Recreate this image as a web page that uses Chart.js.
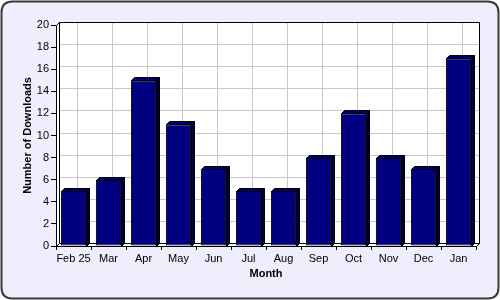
<!DOCTYPE html>
<html>
<head>
<meta charset="utf-8">
<script src="https://cdn.jsdelivr.net/npm/chart.js@4/dist/chart.umd.min.js"></script>
<style>
  html, body { margin: 0; padding: 0; background: #ffffff; }
  #wrap { width: 500px; height: 300px; position: relative; }
</style>
</head>
<body>
<div id="wrap"><canvas id="chart" width="500" height="300"></canvas></div>
<script>
// donnees
const months = ['Feb 25', 'Mar', 'Apr', 'May', 'Jun', 'Jul', 'Aug', 'Sep', 'Oct', 'Nov', 'Dec', 'Jan'];
const downloads = [5, 6, 15, 11, 7, 5, 5, 8, 12, 8, 7, 17];
const yTicks = [0, 2, 4, 6, 8, 10, 12, 14, 16, 18, 20];

const DEPTH = 3;
const FONT = 'Liberation Sans, Arial, sans-serif';

function roundRect(ctx, x, y, w, h, r) {
    ctx.beginPath();
    ctx.moveTo(x + r, y);
    ctx.lineTo(x + w - r, y);
    ctx.quadraticCurveTo(x + w, y, x + w, y + r);
    ctx.lineTo(x + w, y + h - r);
    ctx.quadraticCurveTo(x + w, y + h, x + w - r, y + h);
    ctx.lineTo(x + r, y + h);
    ctx.quadraticCurveTo(x, y + h, x, y + h - r);
    ctx.lineTo(x, y + r);
    ctx.quadraticCurveTo(x, y, x + r, y);
    ctx.closePath();
}

function poly(ctx, pts, fill, stroke) {
    ctx.beginPath();
    ctx.moveTo(pts[0][0], pts[0][1]);
    for (let i = 1; i < pts.length; i++) ctx.lineTo(pts[i][0], pts[i][1]);
    ctx.closePath();
    if (fill) { ctx.fillStyle = fill; ctx.fill(); }
    if (stroke) { ctx.strokeStyle = stroke; ctx.lineWidth = 1; ctx.stroke(); }
}

// fond arrondi + murs 3D
const frame3d = {
    id: 'frame3d',
    beforeDraw(chart) {
        const ctx = chart.ctx;
        ctx.save();
        ctx.fillStyle = '#ffffff';
        ctx.fillRect(0, 0, chart.width, chart.height);
        roundRect(ctx, 1.5, 1.5, chart.width - 3, chart.height - 3, 11);
        ctx.fillStyle = '#eeeefd';
        ctx.fill();
        ctx.lineWidth = 2;
        ctx.strokeStyle = '#3a3a3a';
        ctx.stroke();
        ctx.restore();
    },
    beforeDatasetsDraw(chart) {
        const ctx = chart.ctx;
        const { left, right, top, bottom } = chart.chartArea;
        const xs = chart.scales.x, ys = chart.scales.y;
        const d = DEPTH;
        const L = Math.round(left) + 0.5, R = Math.round(right) + 0.5;
        const T = Math.round(top) + 0.5, B = Math.round(bottom) + 0.5;
        ctx.save();
        // mur du fond
        ctx.fillStyle = '#ffffff';
        ctx.fillRect(L + d, T - d, R - L, B - T);
        ctx.strokeStyle = '#c8c8c8';
        ctx.lineWidth = 1;
        ctx.beginPath();
        yTicks.forEach(v => {
            const y = Math.round(ys.getPixelForValue(v)) + 0.5 - d;
            ctx.moveTo(L + d, y);
            ctx.lineTo(R + d, y);
        });
        months.forEach((m, i) => {
            const x = Math.round(xs.getPixelForValue(i)) + 0.5 + d;
            ctx.moveTo(x, T - d);
            ctx.lineTo(x, B - d);
        });
        ctx.stroke();
        ctx.strokeStyle = '#000000';
        ctx.strokeRect(L + d, T - d, R - L, B - T);
        // mur gauche et sol
        poly(ctx, [[L, T], [L + d, T - d], [L + d, B - d], [L, B]], '#ffffff', '#000000');
        poly(ctx, [[L, B], [L + d, B - d], [R + d, B - d], [R, B]], '#ffffff', '#000000');
        ctx.restore();
    },
    afterDatasetsDraw(chart) {
        const ctx = chart.ctx;
        const d = DEPTH;
        const meta = chart.getDatasetMeta(0);
        ctx.save();
        meta.data.forEach(bar => {
            const { x, y, base, width } = bar.getProps(['x', 'y', 'base', 'width'], true);
            const l = Math.round(x - width / 2) + 0.5;
            const r = Math.round(x + width / 2) + 0.5;
            const t = Math.round(y) + 0.5;
            const b = Math.round(base) + 0.5;
            poly(ctx, [[r, t], [r + d, t - d], [r + d, b - d], [r, b]], '#00003c', '#000000');
            poly(ctx, [[l, t], [l + d, t - d], [r + d, t - d], [r, t]], '#00006a', '#000000');
        });
        ctx.restore();
    }
};

function initChart() {
    const canvas = document.getElementById('chart');
    new Chart(canvas, {
        type: 'bar',
        data: {
            labels: months,
            datasets: [{
                label: 'Number of Downloads',
                data: downloads,
                backgroundColor: '#000080',
                borderColor: '#000000',
                borderWidth: 1,
                borderSkipped: false,
                barPercentage: 0.72,
                categoryPercentage: 1.0
            }]
        },
        options: {
            responsive: false,
            animation: false,
            devicePixelRatio: 1,
            layout: { padding: { left: 21, right: 24, top: 25, bottom: 19 } },
            plugins: {
                legend: { display: false },
                tooltip: { enabled: false }
            },
            scales: {
                x: {
                    grid: { color: 'transparent', tickColor: '#000000', tickLength: 4, drawOnChartArea: false },
                    border: { display: false },
                    ticks: { color: '#000000', font: { family: FONT, size: 11 }, padding: 2, maxRotation: 0, autoSkip: false },
                    title: { display: true, text: 'Month', color: '#000000', font: { family: FONT, size: 11, weight: 'bold' }, padding: { top: 2, bottom: 0 } },
                    afterFit(scale) { scale.height = 35; }
                },
                y: {
                    min: 0,
                    max: 20,
                    afterBuildTicks(scale) { scale.ticks = yTicks.map(v => ({ value: v })); },
                    grid: { color: 'transparent', tickColor: '#000000', tickLength: 5, drawOnChartArea: false },
                    border: { display: false },
                    ticks: { color: '#000000', font: { family: FONT, size: 11 }, padding: 2 },
                    title: { display: true, text: 'Number of Downloads', color: '#000000', font: { family: FONT, size: 11, weight: 'bold' }, padding: { top: 0, bottom: 4 } },
                    afterFit(scale) { scale.width = 35; }
                }
            }
        },
        plugins: [frame3d]
    });
}

document.addEventListener('DOMContentLoaded', initChart);
</script>
</body>
</html>
